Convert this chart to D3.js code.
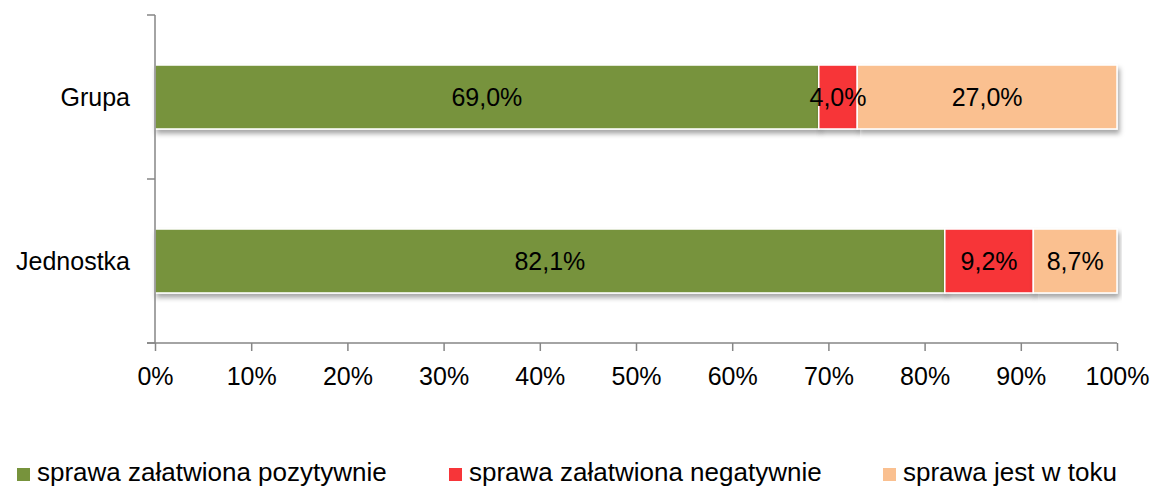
<!DOCTYPE html>
<html>
  <head>
    <meta charset="utf-8">
    <title>Sprawy</title>
    <style>
      body { margin: 0; background: #fff; }
      svg { font-family: "Liberation Sans", Arial, sans-serif; }
      .axis path, .axis line { stroke: #868686; stroke-width: 1.5; }
      .axis text { font-size: 25px; fill: #000; font-family: "Liberation Sans", Arial, sans-serif; }
    </style>
  </head>
  <body>
    <div id="chart"></div>
    <script src="https://cdn.jsdelivr.net/npm/d3@7"></script>
    <script>
    // data
    var categories = ['Grupa', 'Jednostka'];
    var seriesNames = ['sprawa załatwiona pozytywnie', 'sprawa załatwiona negatywnie', 'sprawa jest w toku'];
    var pozytywnie = [69.0, 82.1];
    var negatywnie = [4.0, 9.2];
    var wToku = [27.0, 8.7];
    var xTicks = [0, 10, 20, 30, 40, 50, 60, 70, 80, 90, 100];
    var colors = ['#77933C', '#F73539', '#FAC090'];

    var width = 1154, height = 487;
    var mLeft = 155, mRight = 1117, mTop = 15, mBottom = 343;

    var svg = d3.select('#chart').append('svg')
        .attr('width', width)
        .attr('height', height);

    var defs = svg.append('defs');
    var f = defs.append('filter').attr('id', 'shadow')
        .attr('x', '-5%').attr('y', '-20%').attr('width', '110%').attr('height', '160%');
    f.append('feDropShadow').attr('dx', 2).attr('dy', 4).attr('stdDeviation', 2.5)
        .attr('flood-color', '#000').attr('flood-opacity', 0.35);

    var x = d3.scaleLinear().domain([0, 100]).range([mLeft, mRight]);
    var y = d3.scaleBand().domain(categories).range([mTop, mBottom]).paddingInner(0.61).paddingOuter(0.305);
    var yOuter = d3.scaleBand().domain(categories).range([mTop, mBottom]);

    var rows = categories.map(function(c, i) {
      return { cat: c, pozytywnie: pozytywnie[i], negatywnie: negatywnie[i], wToku: wToku[i] };
    });
    var stack = d3.stack().keys(['pozytywnie', 'negatywnie', 'wToku'])(rows);

    var bars = svg.append('g');
    stack.forEach(function(layer, k) {
      bars.selectAll(null).data(layer).enter().append('rect')
        .attr('x', function(d) { return x(d[0]); })
        .attr('y', function(d) { return y(d.data.cat); })
        .attr('width', function(d) { return x(d[1]) - x(d[0]); })
        .attr('height', y.bandwidth())
        .attr('fill', colors[k])
        .attr('stroke', '#fff')
        .attr('stroke-width', 1.5)
        .attr('filter', 'url(#shadow)');
    });

    var labels = svg.append('g');
    stack.forEach(function(layer, k) {
      labels.selectAll(null).data(layer).enter().append('text')
        .attr('x', function(d) { return (x(d[0]) + x(d[1])) / 2; })
        .attr('y', function(d) { return y(d.data.cat) + y.bandwidth() / 2 + 9; })
        .attr('text-anchor', 'middle')
        .style('font-size', '25px')
        .text(function(d) { return (d[1] - d[0]).toFixed(1).replace('.', ',') + '%'; });
    });

    // y axis: line with ticks on category boundaries
    var yAxis = svg.append('g').attr('class', 'axis');
    yAxis.append('line').attr('x1', mLeft).attr('x2', mLeft).attr('y1', mTop).attr('y2', mBottom);
    var bounds = [mTop].concat(categories.map(function(c) { return yOuter(c) + yOuter.bandwidth(); }));
    yAxis.selectAll(null).data(bounds).enter().append('line')
      .attr('x1', mLeft - 8).attr('x2', mLeft).attr('y1', function(d) { return d; }).attr('y2', function(d) { return d; });
    yAxis.selectAll(null).data(categories).enter().append('text')
      .attr('x', mLeft - 25)
      .attr('y', function(c) { return y(c) + y.bandwidth() / 2 + 9; })
      .attr('text-anchor', 'end')
      .text(function(c) { return c; });

    var xAxis = svg.append('g').attr('class', 'axis')
      .attr('transform', 'translate(0,' + mBottom + ')')
      .call(d3.axisBottom(x).tickValues(xTicks).tickSize(8).tickSizeOuter(0)
        .tickFormat(function(d) { return d + '%'; }));
    xAxis.select('.domain').attr('d', 'M' + (mLeft - 8) + ',0H' + mRight);
    xAxis.selectAll('text').attr('y', 42).attr('dy', 0);

    var legendX = [17, 449, 883];
    var legend = svg.append('g');
    seriesNames.forEach(function(name, k) {
      legend.append('rect').attr('x', legendX[k]).attr('y', 468).attr('width', 13).attr('height', 13)
        .attr('fill', colors[k]);
      legend.append('text').attr('x', legendX[k] + 20).attr('y', 481)
        .style('font-size', '26px').text(name);
    });
    </script>
  </body>
</html>
